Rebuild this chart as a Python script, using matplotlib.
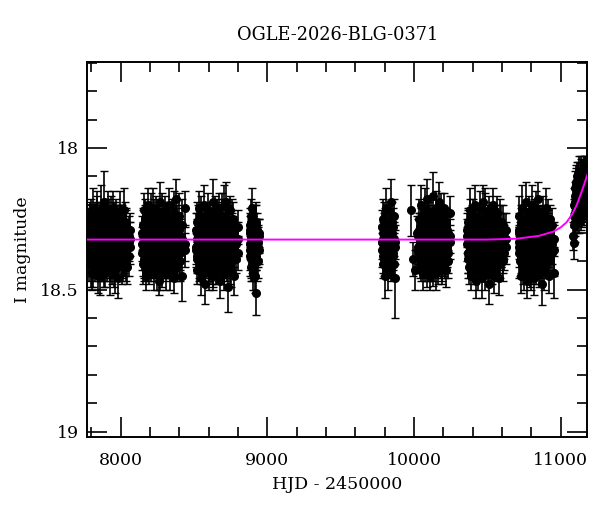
import matplotlib
matplotlib.use("Agg")
import matplotlib.pyplot as plt
from matplotlib.ticker import MultipleLocator

plt.rcParams["font.family"] = ["DejaVu Serif"]

# observing seasons: HJD-2450000, I mag (several measurements per epoch), error
t1 = [7781, 7785, 7790, 7794, 7799, 7803, 7808, 7812, 7817, 7821, 7826, 7830, 7835, 7839, 7844,
      7848, 7853, 7857, 7862, 7866, 7871, 7875, 7880, 7884, 7889, 7893, 7898, 7902, 7907, 7911,
      7916, 7920, 7925, 7929, 7934, 7938, 7943, 7947, 7952, 7956, 7961, 7965, 7970, 7974, 7979,
      7983, 7988, 7992, 7997, 8001, 8006, 8010, 8015, 8019, 8024, 8030, 8037, 8046, 8055, 8066]
m1 = [18.31, 18.40, 18.24, 18.36, 18.29, 18.44, 18.33, 18.21, 18.38, 18.27, 18.42, 18.30, 18.35, 18.23, 18.45,
      18.32, 18.26, 18.39, 18.45, 18.22, 18.41, 18.28, 18.37, 18.19, 18.43, 18.31, 18.25, 18.40, 18.33, 18.22,
      18.38, 18.29, 18.44, 18.35, 18.24, 18.41, 18.30, 18.21, 18.36, 18.27, 18.43, 18.32, 18.25, 18.39, 18.28,
      18.46, 18.34, 18.23, 18.37, 18.30, 18.41, 18.26, 18.35, 18.22, 18.39, 18.31, 18.27, 18.42, 18.33, 18.29]
m1b = [18.27, 18.35, 18.30, 18.39, 18.25, 18.33, 18.41, 18.28, 18.36, 18.31, 18.24, 18.38, 18.32, 18.27, 18.40,
       18.34, 18.29, 18.37, 18.26, 18.33, 18.30, 18.39, 18.25, 18.35, 18.28, 18.42, 18.31, 18.36, 18.27, 18.38,
       18.33, 18.24, 18.30, 18.40, 18.29, 18.34, 18.37, 18.26, 18.32, 18.41, 18.28, 18.35, 18.31, 18.38, 18.25,
       18.33, 18.29, 18.39, 18.27, 18.36, 18.32, 18.30, 18.40, 18.26, 18.34, 18.37, 18.28, 18.33, 18.31, 18.35]
m1c = [18.38, 18.29, 18.34, 18.26, 18.41, 18.31, 18.27, 18.36, 18.30, 18.40, 18.33, 18.28, 18.37, 18.25, 18.32,
       18.39, 18.35, 18.27, 18.31, 18.38, 18.34, 18.26, 18.40, 18.29, 18.36, 18.32, 18.38, 18.25, 18.41, 18.30,
       18.27, 18.35, 18.33, 18.28, 18.39, 18.31, 18.26, 18.37, 18.42, 18.29, 18.34, 18.30, 18.38, 18.27, 18.35,
       18.40, 18.32, 18.28, 18.36, 18.25, 18.39, 18.33, 18.29, 18.37, 18.30, 18.26, 18.41, 18.34, 18.38, 18.32]
e1 = [0.06, 0.07, 0.05, 0.06, 0.08, 0.06, 0.05, 0.07, 0.06, 0.06, 0.05, 0.07, 0.06, 0.08, 0.06,
      0.05, 0.07, 0.06, 0.07, 0.09, 0.05, 0.06, 0.07, 0.11, 0.06, 0.05, 0.07, 0.06, 0.06, 0.07,
      0.05, 0.06, 0.08, 0.06, 0.07, 0.05, 0.06, 0.06, 0.07, 0.05, 0.08, 0.06, 0.07, 0.06, 0.05,
      0.07, 0.06, 0.08, 0.06, 0.05, 0.07, 0.06, 0.06, 0.08, 0.05, 0.07, 0.06, 0.06, 0.07, 0.06]

t2 = [8144, 8149, 8153, 8158, 8162, 8167, 8171, 8176, 8180, 8185, 8189, 8194, 8198, 8203, 8207,
      8212, 8216, 8221, 8225, 8230, 8234, 8239, 8243, 8248, 8252, 8257, 8261, 8266, 8270, 8275,
      8279, 8284, 8288, 8293, 8297, 8302, 8306, 8311, 8315, 8320, 8324, 8329, 8333, 8338, 8342,
      8347, 8351, 8356, 8360, 8365, 8369, 8374, 8378, 8383, 8387, 8392, 8398, 8407, 8418, 8436]
m2 = [18.34, 18.27, 18.41, 18.22, 18.37, 18.30, 18.45, 18.25, 18.39, 18.32, 18.20, 18.43, 18.29, 18.36, 18.24,
      18.40, 18.33, 18.21, 18.44, 18.28, 18.38, 18.31, 18.23, 18.42, 18.35, 18.26, 18.47, 18.30, 18.19, 18.39,
      18.33, 18.24, 18.41, 18.28, 18.36, 18.22, 18.44, 18.31, 18.26, 18.38, 18.34, 18.20, 18.43, 18.29, 18.37,
      18.25, 18.40, 18.32, 18.23, 18.46, 18.35, 18.18, 18.39, 18.27, 18.42, 18.31, 18.24, 18.37, 18.45, 18.21]
m2b = [18.30, 18.36, 18.27, 18.39, 18.33, 18.25, 18.38, 18.31, 18.28, 18.41, 18.34, 18.29, 18.37, 18.26, 18.32,
       18.40, 18.30, 18.35, 18.24, 18.38, 18.33, 18.28, 18.36, 18.31, 18.39, 18.27, 18.34, 18.30, 18.42, 18.26,
       18.35, 18.32, 18.29, 18.37, 18.31, 18.40, 18.27, 18.34, 18.38, 18.30, 18.25, 18.36, 18.33, 18.39, 18.28,
       18.32, 18.35, 18.27, 18.41, 18.30, 18.37, 18.33, 18.26, 18.38, 18.31, 18.35, 18.29, 18.40, 18.32, 18.36]
m2c = [18.37, 18.31, 18.34, 18.28, 18.40, 18.26, 18.33, 18.36, 18.30, 18.25, 18.38, 18.32, 18.27, 18.41, 18.35,
       18.29, 18.39, 18.31, 18.34, 18.27, 18.36, 18.30, 18.40, 18.33, 18.28, 18.37, 18.25, 18.35, 18.31, 18.38,
       18.29, 18.41, 18.34, 18.26, 18.32, 18.37, 18.30, 18.39, 18.28, 18.35, 18.33, 18.27, 18.40, 18.31, 18.36,
       18.29, 18.34, 18.38, 18.26, 18.32, 18.39, 18.30, 18.35, 18.28, 18.41, 18.33, 18.37, 18.31, 18.27, 18.34]
e2 = [0.06, 0.05, 0.07, 0.06, 0.06, 0.08, 0.05, 0.06, 0.07, 0.06, 0.06, 0.05, 0.07, 0.06, 0.08,
      0.06, 0.05, 0.07, 0.06, 0.06, 0.07, 0.05, 0.06, 0.08, 0.06, 0.07, 0.05, 0.06, 0.07, 0.06,
      0.05, 0.08, 0.06, 0.06, 0.07, 0.05, 0.06, 0.07, 0.06, 0.08, 0.05, 0.06, 0.07, 0.06, 0.05,
      0.07, 0.06, 0.06, 0.08, 0.05, 0.06, 0.07, 0.06, 0.07, 0.05, 0.06, 0.08, 0.06, 0.09, 0.06]

t3 = [8513, 8518, 8522, 8527, 8531, 8536, 8540, 8545, 8549, 8554, 8558, 8563, 8567, 8572, 8576,
      8581, 8585, 8590, 8594, 8599, 8603, 8608, 8612, 8617, 8621, 8626, 8630, 8635, 8639, 8644,
      8648, 8653, 8657, 8662, 8666, 8671, 8675, 8680, 8684, 8689, 8693, 8698, 8702, 8707, 8711,
      8716, 8720, 8725, 8729, 8734, 8738, 8743, 8747, 8752, 8756, 8761, 8767, 8775, 8786, 8800]
m3 = [18.36, 18.26, 18.43, 18.31, 18.21, 18.39, 18.34, 18.46, 18.24, 18.37, 18.29, 18.42, 18.20, 18.33, 18.48,
      18.27, 18.40, 18.35, 18.22, 18.44, 18.30, 18.38, 18.25, 18.41, 18.32, 18.19, 18.45, 18.28, 18.36, 18.23,
      18.43, 18.34, 18.26, 18.40, 18.31, 18.21, 18.47, 18.37, 18.29, 18.42, 18.24, 18.35, 18.20, 18.44, 18.30,
      18.38, 18.19, 18.41, 18.33, 18.49, 18.27, 18.36, 18.22, 18.43, 18.31, 18.39, 18.25, 18.45, 18.34, 18.28]
m3b = [18.29, 18.38, 18.32, 18.26, 18.40, 18.34, 18.28, 18.37, 18.31, 18.25, 18.39, 18.33, 18.36, 18.27, 18.30,
       18.41, 18.35, 18.29, 18.38, 18.32, 18.26, 18.36, 18.30, 18.40, 18.34, 18.28, 18.37, 18.31, 18.25, 18.39,
       18.33, 18.29, 18.42, 18.35, 18.27, 18.32, 18.38, 18.30, 18.36, 18.26, 18.34, 18.40, 18.31, 18.28, 18.37,
       18.33, 18.29, 18.39, 18.35, 18.27, 18.32, 18.41, 18.30, 18.36, 18.34, 18.28, 18.38, 18.31, 18.33, 18.37]
m3c = [18.35, 18.30, 18.39, 18.33, 18.28, 18.36, 18.25, 18.31, 18.41, 18.34, 18.29, 18.37, 18.32, 18.40, 18.27,
       18.35, 18.30, 18.38, 18.33, 18.26, 18.39, 18.31, 18.36, 18.28, 18.34, 18.41, 18.30, 18.37, 18.32, 18.27,
       18.38, 18.35, 18.29, 18.33, 18.40, 18.26, 18.36, 18.31, 18.39, 18.34, 18.28, 18.37, 18.30, 18.42, 18.33,
       18.27, 18.35, 18.31, 18.38, 18.29, 18.36, 18.32, 18.40, 18.34, 18.26, 18.37, 18.30, 18.35, 18.39, 18.32]
e3 = [0.06, 0.07, 0.05, 0.06, 0.06, 0.08, 0.05, 0.06, 0.07, 0.06, 0.05, 0.06, 0.07, 0.06, 0.07,
      0.06, 0.05, 0.07, 0.06, 0.06, 0.08, 0.05, 0.06, 0.07, 0.06, 0.08, 0.05, 0.06, 0.07, 0.06,
      0.05, 0.06, 0.08, 0.06, 0.07, 0.05, 0.06, 0.06, 0.07, 0.05, 0.08, 0.06, 0.07, 0.06, 0.05,
      0.06, 0.07, 0.06, 0.06, 0.09, 0.06, 0.07, 0.05, 0.06, 0.08, 0.06, 0.06, 0.07, 0.05, 0.06]

t4 = [8878, 8882, 8886, 8890, 8893, 8897, 8901, 8905, 8909, 8913, 8917, 8921, 8925, 8930, 8936, 8942]
m4 = [18.30, 18.38, 18.24, 18.42, 18.21, 18.34, 18.44, 18.27, 18.37, 18.31, 18.45, 18.51, 18.26, 18.40, 18.33, 18.36]
m4b = [18.34, 18.27, 18.39, 18.31, 18.36, 18.28, 18.33, 18.40, 18.30, 18.26, 18.37, 18.32, 18.38, 18.29, 18.35, 18.31]
m4c = [18.29, 18.36, 18.32, 18.26, 18.38, 18.41, 18.30, 18.35, 18.28, 18.39, 18.33, 18.27, 18.36, 18.32, 18.40, 18.30]
e4 = [0.06, 0.07, 0.06, 0.05, 0.07, 0.06, 0.06, 0.07, 0.05, 0.06, 0.06, 0.08, 0.06, 0.07, 0.06, 0.05]

t5 = [9781, 9786, 9791, 9796, 9800, 9805, 9810, 9815, 9820, 9825, 9830, 9835, 9840, 9845, 9851, 9857, 9864, 9871]
m5 = [18.33, 18.25, 18.41, 18.29, 18.45, 18.36, 18.21, 18.39, 18.31, 18.44, 18.26, 18.35, 18.19, 18.42, 18.30, 18.38, 18.24, 18.46]
m5b = [18.36, 18.30, 18.34, 18.39, 18.27, 18.32, 18.38, 18.29, 18.35, 18.31, 18.40, 18.28, 18.36, 18.33, 18.26, 18.37, 18.32, 18.35]
m5c = [18.28, 18.38, 18.32, 18.26, 18.35, 18.40, 18.30, 18.34, 18.27, 18.37, 18.33, 18.29, 18.39, 18.31, 18.36, 18.28, 18.41, 18.33]
e5 = [0.06, 0.07, 0.05, 0.06, 0.08, 0.06, 0.07, 0.05, 0.06, 0.06, 0.07, 0.06, 0.08, 0.05, 0.06, 0.07, 0.06, 0.14]
e5x = [0.06, 0.05, 0.07, 0.06, 0.06, 0.05, 0.07, 0.06, 0.06, 0.05, 0.06, 0.07, 0.06, 0.05, 0.07, 0.06, 0.06, 0.06]

t6 = [9978, 9994, 10006, 10018, 10030, 10034, 10038, 10043, 10047, 10051, 10056, 10060, 10064,
      10069, 10073, 10077, 10082, 10086, 10090, 10095, 10099, 10103, 10108, 10112, 10116, 10121,
      10125, 10129, 10134, 10138, 10142, 10147, 10151, 10155, 10160, 10164, 10168, 10173, 10177,
      10181, 10186, 10190, 10194, 10199, 10203, 10207, 10212, 10216, 10220, 10225, 10232, 10246]
m6 = [18.22, 18.39, 18.43, 18.30, 18.35, 18.25, 18.41, 18.29, 18.20, 18.38, 18.33, 18.44, 18.27,
      18.36, 18.22, 18.40, 18.31, 18.18, 18.43, 18.34, 18.26, 18.39, 18.30, 18.45, 18.23, 18.37,
      18.32, 18.17, 18.41, 18.28, 18.35, 18.21, 18.44, 18.33, 18.26, 18.40, 18.30, 18.19, 18.38,
      18.34, 18.24, 18.42, 18.29, 18.36, 18.21, 18.39, 18.31, 18.43, 18.26, 18.35, 18.40, 18.23]
# extra measurements only in the dense part of the season (from 10030)
m6b = [18.31, 18.37, 18.28, 18.34, 18.40, 18.26, 18.33, 18.38, 18.30, 18.35, 18.27, 18.39, 18.32, 18.36, 18.29, 18.41,
       18.34, 18.25, 18.37, 18.31, 18.38, 18.28, 18.33, 18.40, 18.30, 18.35, 18.26, 18.39, 18.32, 18.36, 18.29, 18.34,
       18.38, 18.27, 18.31, 18.40, 18.33, 18.28, 18.37, 18.30, 18.35, 18.32, 18.39, 18.27, 18.34, 18.36, 18.30, 18.33]
m6c = [18.36, 18.29, 18.33, 18.39, 18.27, 18.35, 18.31, 18.26, 18.38, 18.32, 18.41, 18.28, 18.35, 18.30, 18.37, 18.25,
       18.33, 18.39, 18.29, 18.36, 18.27, 18.34, 18.40, 18.31, 18.37, 18.28, 18.33, 18.30, 18.38, 18.26, 18.35, 18.41,
       18.29, 18.34, 18.37, 18.31, 18.27, 18.39, 18.32, 18.36, 18.28, 18.38, 18.30, 18.35, 18.33, 18.29, 18.37, 18.31]
e6 = [0.09, 0.06, 0.07, 0.06, 0.06, 0.07, 0.05, 0.06, 0.07, 0.06, 0.05, 0.06, 0.07, 0.06, 0.08,
      0.06, 0.05, 0.07, 0.06, 0.06, 0.07, 0.05, 0.06, 0.05, 0.06, 0.07, 0.06, 0.085, 0.06, 0.07,
      0.05, 0.06, 0.06, 0.07, 0.05, 0.06, 0.06, 0.07, 0.05, 0.06, 0.08, 0.06, 0.07, 0.06, 0.05,
      0.06, 0.07, 0.06, 0.05, 0.06, 0.06, 0.06]

t7 = [10361, 10366, 10370, 10375, 10379, 10384, 10388, 10393, 10397, 10402, 10406, 10411, 10415, 10420,
      10424, 10429, 10433, 10438, 10442, 10447, 10451, 10456, 10460, 10465, 10469, 10474, 10478, 10483,
      10487, 10492, 10496, 10501, 10505, 10510, 10514, 10519, 10523, 10528, 10532, 10537, 10541, 10546,
      10550, 10555, 10559, 10564, 10568, 10573, 10577, 10582, 10586, 10591, 10596, 10603, 10612, 10626]
m7 = [18.31, 18.37, 18.26, 18.42, 18.33, 18.22, 18.45, 18.29, 18.38, 18.24, 18.41, 18.34, 18.20, 18.47,
      18.30, 18.36, 18.25, 18.43, 18.32, 18.21, 18.39, 18.35, 18.27, 18.46, 18.19, 18.40, 18.31, 18.23,
      18.44, 18.36, 18.28, 18.41, 18.33, 18.48, 18.22, 18.38, 18.30, 18.25, 18.43, 18.34, 18.20, 18.45,
      18.32, 18.27, 18.39, 18.23, 18.42, 18.35, 18.29, 18.46, 18.31, 18.37, 18.26, 18.40, 18.33, 18.29]
m7b = [18.34, 18.28, 18.39, 18.31, 18.36, 18.26, 18.33, 18.40, 18.29, 18.35, 18.30, 18.38, 18.27, 18.33,
       18.41, 18.31, 18.36, 18.28, 18.34, 18.39, 18.26, 18.32, 18.37, 18.30, 18.35, 18.28, 18.40, 18.33,
       18.29, 18.37, 18.31, 18.26, 18.38, 18.34, 18.30, 18.36, 18.42, 18.32, 18.28, 18.35, 18.39, 18.30,
       18.27, 18.37, 18.33, 18.40, 18.29, 18.34, 18.38, 18.31, 18.26, 18.36, 18.33, 18.39, 18.30, 18.35]
m7c = [18.29, 18.37, 18.33, 18.27, 18.40, 18.35, 18.30, 18.26, 18.38, 18.32, 18.36, 18.28, 18.41, 18.34,
       18.29, 18.37, 18.31, 18.39, 18.27, 18.35, 18.32, 18.40, 18.30, 18.36, 18.28, 18.33, 18.38, 18.25,
       18.34, 18.31, 18.39, 18.36, 18.29, 18.33, 18.41, 18.27, 18.35, 18.38, 18.30, 18.32, 18.37, 18.28,
       18.40, 18.34, 18.31, 18.26, 18.36, 18.39, 18.33, 18.29, 18.38, 18.30, 18.35, 18.27, 18.37, 18.32]
e7 = [0.06, 0.07, 0.05, 0.06, 0.06, 0.08, 0.05, 0.06, 0.07, 0.06, 0.05, 0.06, 0.07, 0.06,
      0.08, 0.06, 0.05, 0.07, 0.06, 0.06, 0.07, 0.05, 0.06, 0.07, 0.06, 0.05, 0.07, 0.09,
      0.06, 0.05, 0.07, 0.06, 0.06, 0.07, 0.05, 0.06, 0.08, 0.06, 0.05, 0.07, 0.06, 0.06,
      0.05, 0.07, 0.06, 0.06, 0.05, 0.07, 0.06, 0.06, 0.08, 0.05, 0.06, 0.07, 0.06, 0.06]

t8 = [10713, 10717, 10722, 10726, 10731, 10735, 10740, 10744, 10749, 10753, 10758, 10762, 10767,
      10771, 10776, 10780, 10785, 10789, 10794, 10798, 10803, 10807, 10812, 10816, 10821, 10825,
      10830, 10834, 10839, 10843, 10848, 10852, 10857, 10861, 10866, 10870, 10875, 10879, 10884,
      10888, 10893, 10897, 10902, 10906, 10911, 10916, 10922, 10929, 10938, 10956]
m8 = [18.33, 18.24, 18.40, 18.29, 18.45, 18.21, 18.36, 18.31, 18.43, 18.26, 18.38, 18.19, 18.34,
      18.47, 18.28, 18.41, 18.23, 18.37, 18.32, 18.44, 18.20, 18.39, 18.30, 18.25, 18.46, 18.35,
      18.22, 18.42, 18.29, 18.38, 18.18, 18.44, 18.33, 18.26, 18.40, 18.48, 18.31, 18.23, 18.43,
      18.36, 18.27, 18.41, 18.21, 18.34, 18.39, 18.30, 18.45, 18.25, 18.37, 18.44]
m8b = [18.37, 18.30, 18.34, 18.27, 18.39, 18.32, 18.28, 18.41, 18.35, 18.30, 18.26, 18.36, 18.33,
       18.39, 18.29, 18.34, 18.38, 18.31, 18.27, 18.36, 18.40, 18.32, 18.28, 18.35, 18.30, 18.38,
       18.33, 18.26, 18.37, 18.31, 18.35, 18.29, 18.40, 18.34, 18.30, 18.36, 18.27, 18.39, 18.32,
       18.28, 18.35, 18.33, 18.38, 18.30, 18.26, 18.36, 18.31, 18.39, 18.34, 18.32]
m8c = [18.29, 18.35, 18.31, 18.38, 18.26, 18.33, 18.40, 18.30, 18.36, 18.28, 18.34, 18.39, 18.27,
       18.32, 18.37, 18.30, 18.35, 18.41, 18.29, 18.33, 18.27, 18.38, 18.31, 18.36, 18.28, 18.34,
       18.30, 18.39, 18.32, 18.26, 18.37, 18.35, 18.29, 18.40, 18.33, 18.28, 18.36, 18.31, 18.38,
       18.34, 18.30, 18.27, 18.37, 18.32, 18.40, 18.29, 18.35, 18.33, 18.27, 18.36]
e8 = [0.06, 0.07, 0.05, 0.06, 0.06, 0.08, 0.05, 0.06, 0.07, 0.06, 0.05, 0.07, 0.06,
      0.06, 0.07, 0.05, 0.06, 0.08, 0.06, 0.06, 0.07, 0.05, 0.06, 0.07, 0.06, 0.05,
      0.07, 0.06, 0.06, 0.08, 0.06, 0.05, 0.07, 0.06, 0.06, 0.075, 0.05, 0.06, 0.07, 0.06,
      0.06, 0.05, 0.07, 0.06, 0.06, 0.07, 0.06, 0.05, 0.06, 0.09]

t9 = [11086, 11088, 11091, 11095, 11099, 11103, 11107, 11111, 11115, 11119, 11123, 11127, 11131,
      11135, 11139, 11143, 11147, 11151, 11155, 11159, 11163, 11167, 11171, 11175, 11179]
m9 = [18.31, 18.335, 18.24, 18.17, 18.27, 18.20, 18.12, 18.25, 18.16, 18.22, 18.09, 18.19, 18.13,
      18.24, 18.10, 18.18, 18.08, 18.21, 18.14, 18.11, 18.20, 18.07, 18.15, 18.12, 18.09]
# extra measurements from 11091 on
m9b = [18.20, 18.26, 18.14, 18.22, 18.18, 18.10, 18.21, 18.15, 18.24, 18.12, 18.17, 18.22,
       18.09, 18.16, 18.20, 18.13, 18.18, 18.08, 18.15, 18.21, 18.11, 18.17, 18.13]
m9c = [18.27, 18.19, 18.23, 18.16, 18.13, 18.24, 18.19, 18.11, 18.17, 18.21, 18.14, 18.10,
       18.19, 18.23, 18.12, 18.16, 18.10, 18.22, 18.17, 18.13, 18.09, 18.19, 18.16]
e9 = [0.05, 0.055, 0.06, 0.05, 0.06, 0.05, 0.06, 0.05, 0.06, 0.05, 0.06, 0.05, 0.06,
      0.05, 0.06, 0.05, 0.04, 0.06, 0.05, 0.05, 0.06, 0.04, 0.05, 0.05, 0.04]

# (time, mag, err) sets
series = [
    (t1, m1, e1), (t1, m1b, e1[::-1]), (t1, m1c, e1),
    (t2, m2, e2), (t2, m2b, e2[::-1]), (t2, m2c, e2),
    (t3, m3, e3), (t3, m3b, e3[::-1]), (t3, m3c, e3),
    (t4, m4, e4), (t4, m4b, e4[::-1]), (t4, m4c, e4),
    (t5, m5, e5), (t5, m5b, e5x), (t5, m5c, e5x[::-1]),
    (t6, m6, e6), (t6[4:], m6b, e6[4:]), (t6[4:], m6c, e6[:3:-1]),
    (t7, m7, e7), (t7, m7b, e7[::-1]), (t7, m7c, e7),
    (t8, m8, e8), (t8, m8b, e8[::-1]), (t8, m8c, e8),
    (t9, m9, e9), (t9[2:], m9b, e9[2:]), (t9[2:], m9c, e9[:1:-1]),
]

# model light curve
model_t = [7772, 10500, 10700, 10850, 10950, 11000, 11040, 11080, 11110, 11135, 11160, 11181]
model_m = [18.323, 18.323, 18.320, 18.310, 18.295, 18.280, 18.262, 18.232, 18.200, 18.165, 18.128, 18.095]

fig = plt.figure(figsize=(6.0, 5.12), dpi=100)
ax = fig.add_axes([0.1455, 0.1471, 0.8333, 0.7312])

for t, m, e in series:
    ax.errorbar(t, m, yerr=e, fmt="o", color="k", ms=5.5, elinewidth=1.2,
                capsize=3, capthick=1.0, zorder=2)

ax.plot(model_t, model_m, color="#ff00ff", lw=1.4, zorder=3)

ax.set_xlim(7772, 11181)
ax.set_ylim(19.018, 17.698)
ax.xaxis.set_major_locator(MultipleLocator(1000))
ax.xaxis.set_minor_locator(MultipleLocator(200))
ax.yaxis.set_major_locator(MultipleLocator(0.5))
ax.yaxis.set_minor_locator(MultipleLocator(0.1))
ax.yaxis.set_major_formatter(plt.FuncFormatter(lambda v, p: f"{v:g}"))
ax.tick_params(which="both", direction="in", top=True, right=True, width=1.2, labelsize=12.5)
ax.tick_params(which="major", length=14.5)
ax.tick_params(which="minor", length=7)
ax.tick_params(axis="x", which="major", pad=11)
ax.tick_params(axis="y", which="major", pad=6)
for sp in ax.spines.values():
    sp.set_linewidth(1.4)

ax.set_title("OGLE-2026-BLG-0371", fontsize=12.8, pad=16)
ax.set_xlabel("HJD - 2450000", fontsize=12.5, labelpad=5)
ax.set_ylabel("I magnitude", fontsize=12.5, labelpad=7)

fig.savefig("out.png", dpi=100)
